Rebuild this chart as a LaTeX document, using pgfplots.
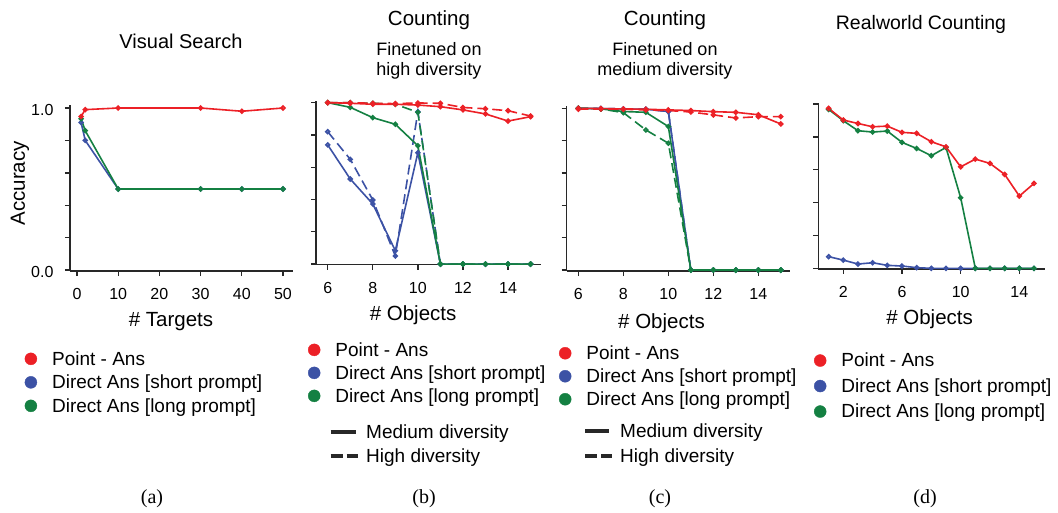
\documentclass[border=0pt]{standalone}
\usepackage{fontspec}
\setmainfont{Liberation Sans}
\newfontfamily\capfont{Liberation Serif}
\usepackage{pgfplots}
\pgfplotsset{compat=1.18}
\definecolor{cRed}{RGB}{236,32,38}
\definecolor{cBlue}{RGB}{60,82,165}
\definecolor{cGreen}{RGB}{20,128,66}
\definecolor{cAx}{RGB}{40,40,40}
\newcommand\ls{\rule[-4pt]{0pt}{18pt}}
\pgfplotsset{
 panel/.style={
  scale only axis,
  axis lines=left,
  axis line style={-, line width=1.4pt, cAx},
  tick align=outside,
  major tick length=5pt,
  tick style={line width=1.4pt, cAx},
  ytick={0,0.2,0.4,0.6,0.8,1.0},
  yticklabels={},
  /pgf/number format/assume math mode=true,
  tick label style={font=\fontsize{16}{16}\selectfont},
  xticklabel style={yshift=-9pt},
  label style={font=\fontsize{20.5}{20.5}\selectfont},
  clip=false,
  legend cell align=left,
  legend image code/.code={\fill[##1] (0pt,0pt) circle (6pt);},
  legend style={draw=none, fill=none, inner sep=0pt, outer sep=0pt, anchor=north west,
    column sep=15pt, font=\fontsize{19}{19}\selectfont, nodes={inner sep=0pt}},
 },
 ser/.style={line width=1.6pt, mark=*, mark size=1.9pt,
   mark options={solid, draw=none, fill opacity=0.55}, forget plot},
 dsh/.style={dash pattern=on 10pt off 5pt},
}
\begin{document}
\begin{tikzpicture}
% ---------------- (a) ----------------
\begin{axis}[panel, at={(70pt,-271pt)}, anchor=south west, width=223pt, height=166pt,
 xmin=-1.70, xmax=52.43, ymin=-0.006, ymax=1.0185,
 xtick={0,10,20,30,40,50}, xticklabels={0,10,20,30,40,50},
 yticklabels={0.0,,,,,1.0}, yticklabel style={xshift=-8pt, yshift=-2pt},
 xlabel={\# Targets}, xlabel style={at={(axis description cs:0.453,-0.337)}, anchor=base},
 ylabel={Accuracy}, ylabel style={at={(axis description cs:-0.2018,0.528)}, anchor=base},
 legend style={at={(axis description cs:-0.2031,-0.4825)}, row sep=8pt}]
\addplot[ser, cBlue] coordinates {(1,0.91)(2,0.80)(10,0.5)(30,0.5)(40,0.5)(50,0.5)};
\addplot[ser, cGreen] coordinates {(1,0.934)(2,0.86)(10,0.5)(30,0.5)(40,0.5)(50,0.5)};
\addplot[ser, cRed] coordinates {(1,0.948)(2,0.99)(10,1.0)(30,1.0)(40,0.98)(50,1.0)};
\addlegendimage{cRed}\addlegendentry{\ls Point - Ans}
\addlegendimage{cBlue}\addlegendentry{\ls Direct Ans [short prompt]}
\addlegendimage{cGreen}\addlegendentry{\ls Direct Ans [long prompt]}
\end{axis}
% ---------------- (b) ----------------
\begin{axis}[panel, at={(316pt,-264.7pt)}, anchor=south west, width=224.7pt, height=164pt,
 xmin=5.48, xmax=15.45, ymin=-0.004, ymax=1.012,
 xtick={6,8,10,12,14}, xticklabels={6,8,10,12,14},
 xlabel={\# Objects}, xlabel style={at={(axis description cs:0.432,-0.340)}, anchor=base},
 legend style={at={(axis description cs:-0.0356,-0.472)}, row sep=7.5pt}]
\addplot[ser, cBlue] coordinates {(6,0.738)(7,0.527)(8,0.372)(9,0.083)(10,0.69)(11,0)(12,0)(13,0)(14,0)(15,0)};
\addplot[ser, cBlue, dsh] coordinates {(6,0.82)(7,0.649)(8,0.397)(9,0.05)(10,0.944)(11,0)(12,0)(13,0)(14,0)(15,0)};
\addplot[ser, cGreen] coordinates {(6,1.0)(7,0.971)(8,0.907)(9,0.866)(10,0.733)(11,0)(12,0)(13,0)(14,0)(15,0)};
\addplot[ser, cGreen, dsh] coordinates {(6,1.0)(7,1.0)(8,0.996)(9,0.99)(10,0.94)(11,0)(12,0)(13,0)(14,0)(15,0)};
\addplot[ser, cRed] coordinates {(6,1.0)(7,0.996)(8,0.99)(9,0.99)(10,0.985)(11,0.975)(12,0.955)(13,0.93)(14,0.886)(15,0.913)};
\addplot[ser, cRed, dsh] coordinates {(6,1.0)(7,1.0)(8,0.996)(9,0.994)(10,0.998)(11,0.996)(12,0.97)(13,0.962)(14,0.95)(15,0.917)};
\addlegendimage{cRed}\addlegendentry{\ls Point - Ans}
\addlegendimage{cBlue}\addlegendentry{\ls Direct Ans [short prompt]}
\addlegendimage{cGreen}\addlegendentry{\ls Direct Ans [long prompt]}
\end{axis}
% ---------------- (c) ----------------
\begin{axis}[panel, at={(566.7pt,-271pt)}, anchor=south west, width=223.3pt, height=165pt,
 xmin=5.48, xmax=15.41, ymin=-0.006, ymax=1.014,
 xtick={6,8,10,12,14}, xticklabels={6,8,10,12,14},
 xlabel={\# Objects}, xlabel style={at={(axis description cs:0.4245,-0.348)}, anchor=base},
 legend style={at={(axis description cs:-0.0345,-0.4515)}, row sep=7.5pt}]
\addplot[ser, cBlue, dsh] coordinates {(6,1.0)(7,0.998)(8,0.996)(9,0.994)(10,0.98)(11,0)(12,0)(13,0)(14,0)(15,0)};
\addplot[ser, cBlue] coordinates {(6,1.0)(7,0.998)(8,0.996)(9,0.994)(10,0.98)(11,0)(12,0)(13,0)(14,0)(15,0)};
\addplot[ser, cGreen] coordinates {(6,1.0)(7,0.996)(8,0.98)(9,0.975)(10,0.887)(11,0)(12,0)(13,0)(14,0)(15,0)};
\addplot[ser, cGreen, dsh] coordinates {(6,1.0)(7,0.996)(8,0.973)(9,0.866)(10,0.784)(11,0)(12,0)(13,0)(14,0)(15,0)};
\addplot[ser, cRed] coordinates {(6,1.0)(7,0.998)(8,0.996)(9,0.994)(10,0.99)(11,0.986)(12,0.979)(13,0.975)(14,0.96)(15,0.903)};
\addplot[ser, cRed, dsh] coordinates {(6,0.994)(7,0.996)(8,0.994)(9,0.99)(10,0.986)(11,0.977)(12,0.959)(13,0.94)(14,0.948)(15,0.948)};
\addlegendimage{cRed}\addlegendentry{\ls Point - Ans}
\addlegendimage{cBlue}\addlegendentry{\ls Direct Ans [short prompt]}
\addlegendimage{cGreen}\addlegendentry{\ls Direct Ans [long prompt]}
\end{axis}
% ---------------- (d) ----------------
\begin{axis}[panel, at={(818.3pt,-268.8pt)}, anchor=south west, width=226.7pt, height=166pt,
 xmin=0.296, xmax=15.75, ymin=-0.003, ymax=1.008,
 xtick={2,6,10,14}, xticklabels={2,6,10,14},
 xlabel={\# Objects}, xlabel style={at={(axis description cs:0.491,-0.3355)}, anchor=base},
 legend style={at={(axis description cs:-0.019,-0.506)}, row sep=10pt}]
\addplot[ser, cBlue] coordinates {(1,0.071)(2,0.05)(3,0.026)(4,0.034)(5,0.018)(6,0.014)(7,0.004)(8,0)(9,0)(10,0)(11,0)(12,0)(13,0)(14,0)(15,0)};
\addplot[ser, cGreen] coordinates {(1,0.968)(2,0.899)(3,0.838)(4,0.83)(5,0.836)(6,0.767)(7,0.73)(8,0.686)(9,0.736)(10,0.43)(11,0)(12,0)(13,0)(14,0)(15,0)};
\addplot[ser, cRed] coordinates {(1,0.974)(2,0.903)(3,0.882)(4,0.862)(5,0.866)(6,0.828)(7,0.822)(8,0.771)(9,0.74)(10,0.618)(11,0.665)(12,0.639)(13,0.572)(14,0.44)(15,0.517)};
\addlegendimage{cRed}\addlegendentry{\ls Point - Ans}
\addlegendimage{cBlue}\addlegendentry{\ls Direct Ans [short prompt]}
\addlegendimage{cGreen}\addlegendentry{\ls Direct Ans [long prompt]}
\end{axis}
% ---------------- titles ----------------
\node[anchor=base, font=\fontsize{20}{20}\selectfont] at (181pt,-48.3pt) {Visual Search};
\node[anchor=base, font=\fontsize{20.5}{20.5}\selectfont] at (429pt,-25pt) {Counting};
\node[anchor=base, font=\fontsize{18}{18}\selectfont] at (429pt,-55pt) {Finetuned on};
\node[anchor=base, font=\fontsize{18}{18}\selectfont] at (429pt,-75pt) {high diversity};
\node[anchor=base, font=\fontsize{20.5}{20.5}\selectfont] at (665pt,-25pt) {Counting};
\node[anchor=base, font=\fontsize{18}{18}\selectfont] at (665pt,-55pt) {Finetuned on};
\node[anchor=base, font=\fontsize{18}{18}\selectfont] at (665pt,-75pt) {medium diversity};
\node[anchor=base, font=\fontsize{19.5}{19.5}\selectfont] at (921pt,-29pt) {Realworld Counting};
% ---------------- line-style keys ----------------
\draw[line width=4pt, cAx] (330.7pt,-431.7pt) -- (355.7pt,-431.7pt);
\draw[line width=4pt, cAx, dash pattern=on 12pt off 4pt] (330.7pt,-456pt) -- (358pt,-456pt);
\node[anchor=base west, inner sep=0pt, font=\fontsize{19}{19}\selectfont] at (366pt,-438.5pt) {Medium diversity};
\node[anchor=base west, inner sep=0pt, font=\fontsize{19}{19}\selectfont] at (366pt,-462.8pt) {High diversity};
\draw[line width=4pt, cAx] (585pt,-431pt) -- (609.3pt,-431pt);
\draw[line width=4pt, cAx, dash pattern=on 12pt off 4pt] (585pt,-455.7pt) -- (612pt,-455.7pt);
\node[anchor=base west, inner sep=0pt, font=\fontsize{19}{19}\selectfont] at (620pt,-437.8pt) {Medium diversity};
\node[anchor=base west, inner sep=0pt, font=\fontsize{19}{19}\selectfont] at (620pt,-462.5pt) {High diversity};
% ---------------- captions ----------------
\node[anchor=base, font=\capfont\fontsize{20}{20}\selectfont] at (152pt,-503pt) {(a)};
\node[anchor=base, font=\capfont\fontsize{20}{20}\selectfont] at (424pt,-503pt) {(b)};
\node[anchor=base, font=\capfont\fontsize{20}{20}\selectfont] at (660pt,-503pt) {(c)};
\node[anchor=base, font=\capfont\fontsize{20}{20}\selectfont] at (925pt,-503pt) {(d)};
\pgfresetboundingbox
\path[use as bounding box] (0pt,0pt) rectangle (1058pt,-512pt);
\end{tikzpicture}
\end{document}
